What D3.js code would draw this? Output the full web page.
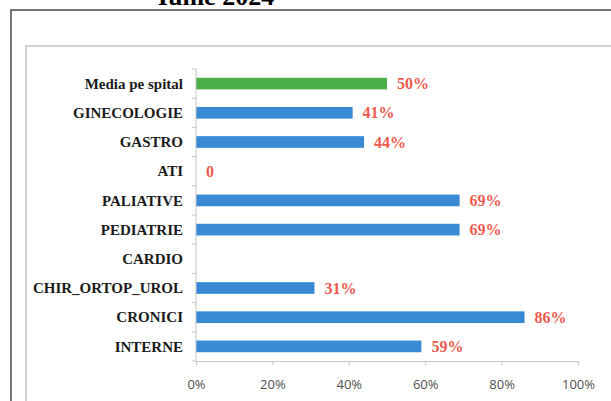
<!DOCTYPE html>
<html>
<head>
<meta charset="utf-8">
<script src="https://cdn.jsdelivr.net/npm/d3@7"></script>
<style>
  body { margin: 0; background: #fff; }
  .cat text { font-family: "Liberation Serif", "Times New Roman", serif; font-weight: bold; font-size: 15px; fill: #1a1a1a; }
  .xax text { font-family: "Open Sans", "Liberation Sans", sans-serif; font-size: 13px; fill: #505050; }
  .val { font-family: "Liberation Serif", serif; font-weight: bold; font-size: 16px; fill: #ee5a4e; }
</style>
</head>
<body>
<script>
// chart data
var categories = ["Media pe spital", "GINECOLOGIE", "GASTRO", "ATI", "PALIATIVE",
                  "PEDIATRIE", "CARDIO", "CHIR_ORTOP_UROL", "CRONICI", "INTERNE"];
var values = [50, 41, 44, 0, 69, 69, null, 31, 86, 59];
var xTicks = [0, 20, 40, 60, 80, 100];

var W = 611, H = 401;
var svg = d3.select("body").append("svg")
    .attr("width", W)
    .attr("height", H);

// title, cut off at the top like in the scan
svg.append("text")
    .attr("x", 216)
    .attr("y", 5)
    .attr("text-anchor", "middle")
    .style("font-family", "Liberation Serif, serif")
    .style("font-weight", "bold")
    .style("font-size", "26px")
    .text("Iunie 2024");

// outer frame
svg.append("rect")
    .attr("x", 11).attr("y", 10)
    .attr("width", 700).attr("height", 500)
    .attr("fill", "none")
    .attr("stroke", "#555")
    .attr("stroke-width", 1.6);

// chart area frame
svg.append("rect")
    .attr("x", 26).attr("y", 46)
    .attr("width", 700).attr("height", 500)
    .attr("fill", "none")
    .attr("stroke", "#a8a8a8")
    .attr("stroke-width", 1);

var x = d3.scaleLinear().domain([0, 100]).range([196, 578]);
var y = d3.scaleBand().domain(categories).range([69, 361]).paddingInner(0.6).paddingOuter(0.3);

var data = categories.map(function(c, i) { return {cat: c, v: values[i]}; });

// bars
svg.selectAll(".bar")
    .data(data.filter(function(d) { return d.v; }))
  .enter().append("rect")
    .attr("class", "bar")
    .attr("x", x(0))
    .attr("y", function(d) { return y(d.cat); })
    .attr("width", function(d) { return x(d.v) - x(0); })
    .attr("height", y.bandwidth())
    .attr("fill", function(d) { return d.cat == "Media pe spital" ? "#4caf48" : "#3a89d5"; });

// value labels
svg.selectAll(".val")
    .data(data.filter(function(d) { return d.v != null; }))
  .enter().append("text")
    .attr("class", "val")
    .attr("x", function(d) { return x(d.v) + 10; })
    .attr("y", function(d) { return y(d.cat) + y.bandwidth() / 2; })
    .attr("dy", "0.35em")
    .text(function(d) { return d.v === 0 ? "0" : d.v + "%"; });

// y axis: ticks at band boundaries
var yAxis = svg.append("g")
    .attr("class", "cat");
yAxis.append("line")
    .attr("x1", x(0)).attr("x2", x(0))
    .attr("y1", y.range()[0]).attr("y2", y.range()[1])
    .attr("stroke", "#c4c4c4");
var step = (y.range()[1] - y.range()[0]) / categories.length;
yAxis.selectAll(".ytick")
    .data(d3.range(categories.length + 1))
  .enter().append("line")
    .attr("x1", x(0) - 4).attr("x2", x(0))
    .attr("y1", function(i) { return y.range()[0] + i * step; })
    .attr("y2", function(i) { return y.range()[0] + i * step; })
    .attr("stroke", "#c4c4c4");
yAxis.selectAll(".lbl")
    .data(categories)
  .enter().append("text")
    .attr("x", 183)
    .attr("y", function(d) { return y(d) + y.bandwidth() / 2; })
    .attr("dy", "0.35em")
    .attr("text-anchor", "end")
    .text(function(d) { return d; });

// x axis
var xAxis = svg.append("g")
    .attr("class", "xax")
    .attr("transform", "translate(0," + y.range()[1] + ")")
    .call(d3.axisBottom(x).tickValues(xTicks).tickSize(4).tickPadding(15)
      .tickFormat(function(d) { return d + "%"; }));
xAxis.select(".domain").attr("stroke", "#c4c4c4");
xAxis.selectAll(".tick line").attr("stroke", "#c4c4c4");
</script>
</body>
</html>
